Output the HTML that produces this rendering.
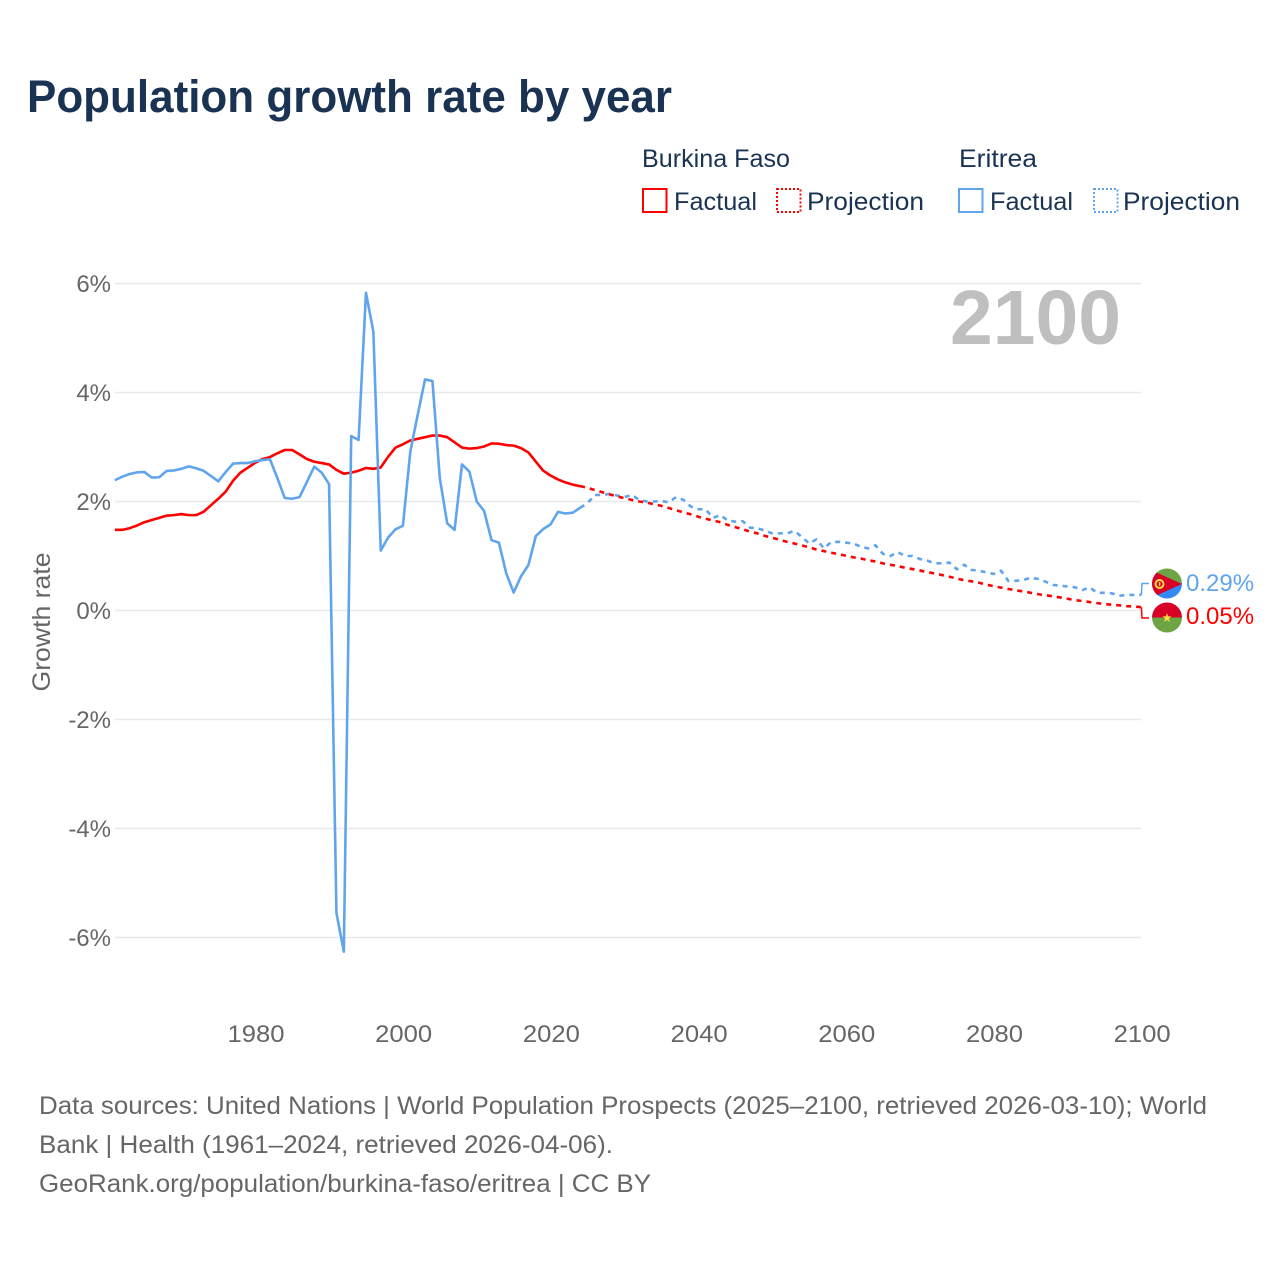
<!DOCTYPE html>
<html lang="en">
<head>
<meta charset="utf-8">
<title>Population growth rate by year</title>
<style>
html,body{margin:0;padding:0;background:#fff;}
svg{display:block;font-family:"Liberation Sans",sans-serif;}
</style>
</head>
<body>
<svg id="chart" width="1280" height="1280" viewBox="0 0 1280 1280" xmlns="http://www.w3.org/2000/svg">
  <text x="27" y="112" font-size="45" font-weight="700" fill="#1a3353" textLength="645" lengthAdjust="spacingAndGlyphs">Population growth rate by year</text>

  <g font-size="25" fill="#1a3353">
    <text x="642" y="167" textLength="148" lengthAdjust="spacingAndGlyphs">Burkina Faso</text>
    <text x="959" y="167" textLength="78" lengthAdjust="spacingAndGlyphs">Eritrea</text>
    <rect x="643" y="189" width="23.5" height="23" fill="none" stroke="#ff0000" stroke-width="2"/>
    <text x="674" y="210" textLength="83" lengthAdjust="spacingAndGlyphs">Factual</text>
    <rect x="777" y="189" width="23.5" height="23" fill="none" stroke="#ff0000" stroke-width="2" stroke-dasharray="2 2"/>
    <text x="807" y="210" textLength="117" lengthAdjust="spacingAndGlyphs">Projection</text>
    <rect x="959" y="189" width="23.5" height="23" fill="none" stroke="#60a5ec" stroke-width="2"/>
    <text x="990" y="210" textLength="83" lengthAdjust="spacingAndGlyphs">Factual</text>
    <rect x="1094" y="189" width="23.5" height="23" fill="none" stroke="#60a5ec" stroke-width="2" stroke-dasharray="2 2"/>
    <text x="1123" y="210" textLength="117" lengthAdjust="spacingAndGlyphs">Projection</text>
  </g>

  <g id="grid"></g>
  <g id="yticks"></g>
  <g id="xticks"></g>

  <text transform="translate(50,622) rotate(-90)" text-anchor="middle" font-size="25" fill="#666666" textLength="139" lengthAdjust="spacingAndGlyphs">Growth rate</text>

  <text x="950" y="344" font-size="77" font-weight="700" fill="#bfbfbf" textLength="171" lengthAdjust="spacingAndGlyphs">2100</text>

  <g id="series"></g>

  <g>
    <clipPath id="clip-er"><circle cx="1167" cy="583.5" r="15"/></clipPath>
    <g clip-path="url(#clip-er)">
      <rect x="1152" y="568" width="30" height="16" fill="#6da544"/>
      <rect x="1152" y="583" width="30" height="16" fill="#338af3"/>
      <polygon points="1151,570 1182,584 1151,598" fill="#d80027"/>
      <circle cx="1159.5" cy="584" r="4" fill="none" stroke="#ffda44" stroke-width="2"/>
      <rect x="1158.8" y="582" width="1.5" height="4" fill="#ffda44"/>
    </g>
  </g>
  <g>
    <clipPath id="clip-bf"><circle cx="1167" cy="617.5" r="15"/></clipPath>
    <g clip-path="url(#clip-bf)">
      <rect x="1152" y="602" width="30" height="16" fill="#d80027"/>
      <rect x="1152" y="617.5" width="30" height="16" fill="#6da544"/>
      <polygon points="1167,613 1168.2,616.4 1171.6,616.4 1168.8,618.5 1169.9,622 1167,620 1164.1,622 1165.2,618.5 1162.4,616.4 1165.8,616.4" fill="#ffda44"/>
    </g>
  </g>
  <g id="endlabels"></g>

  <g font-size="25" fill="#666666">
    <text x="39" y="1114" textLength="1168" lengthAdjust="spacingAndGlyphs">Data sources: United Nations | World Population Prospects (2025–2100, retrieved 2026-03-10); World</text>
    <text x="39" y="1153" textLength="574" lengthAdjust="spacingAndGlyphs">Bank | Health (1961–2024, retrieved 2026-04-06).</text>
    <text x="39" y="1192" textLength="612" lengthAdjust="spacingAndGlyphs">GeoRank.org/population/burkina-faso/eritrea | CC BY</text>
  </g>
</svg>
<script>
const yTickValues = [6, 4, 2, 0, -2, -4, -6];
const yTickLabels = ["6%", "4%", "2%", "0%", "-2%", "-4%", "-6%"];
const xTickYears = [1980, 2000, 2020, 2040, 2060, 2080, 2100];
const xTickLabels = ["1980", "2000", "2020", "2040", "2060", "2080", "2100"];
const factualStartYear = 1961;
const projectionStartYear = 2024;

const burkinaFactual = [1.48,1.48,1.51,1.56,1.62,1.66,1.70,1.74,1.75,1.77,1.75,1.75,1.81,1.93,2.05,2.18,2.38,2.53,2.62,2.71,2.78,2.815,2.885,2.945,2.945,2.865,2.78,2.73,2.705,2.68,2.58,2.51,2.53,2.565,2.615,2.60,2.625,2.82,2.99,3.05,3.12,3.15,3.18,3.21,3.21,3.18,3.085,2.99,2.97,2.98,3.01,3.065,3.06,3.035,3.025,2.98,2.90,2.73,2.565,2.475,2.405,2.35,2.31,2.28];
const eritreaFactual = [2.39,2.455,2.505,2.535,2.54,2.44,2.445,2.56,2.57,2.60,2.645,2.61,2.565,2.47,2.37,2.54,2.695,2.705,2.705,2.74,2.76,2.775,2.43,2.065,2.05,2.08,2.36,2.64,2.53,2.32,-5.55,-6.26,3.2,3.13,5.83,5.115,1.10,1.34,1.49,1.555,2.91,3.59,4.24,4.21,2.425,1.60,1.48,2.68,2.55,2.0,1.825,1.29,1.245,0.68,0.33,0.63,0.835,1.365,1.495,1.58,1.81,1.78,1.795,1.885];
const burkinaProjection = [2.285,2.25,2.21,2.17,2.13,2.095,2.06,2.03,2.0,1.98,1.95,1.92,1.88,1.84,1.80,1.765,1.72,1.685,1.65,1.62,1.57,1.53,1.49,1.45,1.415,1.37,1.335,1.30,1.26,1.23,1.195,1.16,1.12,1.09,1.06,1.035,1.005,0.975,0.955,0.92,0.90,0.865,0.84,0.815,0.785,0.76,0.735,0.705,0.68,0.65,0.62,0.585,0.555,0.535,0.51,0.475,0.445,0.42,0.395,0.37,0.35,0.325,0.30,0.28,0.26,0.24,0.215,0.19,0.175,0.155,0.135,0.12,0.105,0.095,0.08,0.075,0.06];
const eritreaProjection = [1.885,1.97,2.12,2.12,2.14,2.11,2.08,2.12,2.03,2.0,2.0,2.01,1.985,2.08,2.03,1.905,1.86,1.855,1.70,1.75,1.65,1.63,1.64,1.52,1.51,1.465,1.415,1.415,1.415,1.46,1.355,1.23,1.305,1.14,1.255,1.26,1.245,1.23,1.17,1.14,1.195,1.04,1.0,1.07,1.0,1.0,0.945,0.915,0.865,0.865,0.88,0.755,0.84,0.745,0.73,0.70,0.67,0.73,0.54,0.545,0.56,0.60,0.58,0.53,0.47,0.455,0.44,0.425,0.375,0.425,0.325,0.325,0.315,0.27,0.285,0.285,0.29];
const endValueLabels = ["0.29%", "0.05%"];

const SVGNS = "http://www.w3.org/2000/svg";
const BLUE = "#60a5ec";
const RED = "#ff0000";
function xScale(year) { return 255.2 + (year - 1980) * 7.385; }
function yScale(value) { return 610.5 - value * 54.5; }
function make(tag, attrs, parent) {
  const el = document.createElementNS(SVGNS, tag);
  for (const k in attrs) el.setAttribute(k, attrs[k]);
  parent.appendChild(el);
  return el;
}
function linePath(values, startYear) {
  return values.map(function (v, i) {
    return (i ? "L" : "M") + xScale(startYear + i).toFixed(2) + " " + yScale(v).toFixed(2);
  }).join(" ");
}

const gridG = document.getElementById("grid");
const yG = document.getElementById("yticks");
yTickValues.forEach(function (v, i) {
  const ln = make("line", { x1: 115, x2: 1141, y1: yScale(v), y2: yScale(v), stroke: "#e9e9e9", "stroke-width": 1.5 }, gridG);
  
  
  const t = make("text", { x: 111, y: yScale(v) + 8.5, "text-anchor": "end", "font-size": 24, fill: "#666666" }, yG);
  
  
  t.textContent = yTickLabels[i];
});

const xG = document.getElementById("xticks");
xTickYears.forEach(function (yr, i) {
  const t = make("text", { x: xScale(yr) - 27.7, y: 1042, "font-size": 24, fill: "#666666", textLength: 57, lengthAdjust: "spacingAndGlyphs" }, xG);
  
  
  t.textContent = xTickLabels[i];
});

const seriesG = document.getElementById("series");
const baseLine = { fill: "none", "stroke-width": 2.6, "stroke-linejoin": "round" };
const l1 = make("path", Object.assign({ d: linePath(eritreaProjection, projectionStartYear), stroke: BLUE, "stroke-dasharray": "5 5" }, baseLine), seriesG);


const l2 = make("path", Object.assign({ d: linePath(burkinaProjection, projectionStartYear), stroke: RED, "stroke-dasharray": "5 5" }, baseLine), seriesG);


const l3 = make("path", Object.assign({ d: linePath(burkinaFactual, factualStartYear), stroke: RED }, baseLine), seriesG);


const l4 = make("path", Object.assign({ d: linePath(eritreaFactual, factualStartYear), stroke: BLUE }, baseLine), seriesG);



const endYear = projectionStartYear + eritreaProjection.length - 1;
const ex = xScale(endYear);
const c1 = make("path", { d: "M" + ex + " " + yScale(eritreaProjection[eritreaProjection.length - 1]) + " L" + (ex + 0.6) + " 583.5 L1149 583.5", fill: "none", stroke: BLUE, "stroke-width": 1.5 }, seriesG);


const c2 = make("path", { d: "M" + ex + " " + yScale(burkinaProjection[burkinaProjection.length - 1]) + " L" + (ex + 0.6) + " 618 L1149 618", fill: "none", stroke: RED, "stroke-width": 1.5 }, seriesG);



const endG = document.getElementById("endlabels");
const e1 = make("text", { x: 1186, y: 591, "font-size": 24, fill: BLUE }, endG);


e1.textContent = endValueLabels[0];
const e2 = make("text", { x: 1186, y: 624, "font-size": 24, fill: RED }, endG);


e2.textContent = endValueLabels[1];
</script>
</body>
</html>
